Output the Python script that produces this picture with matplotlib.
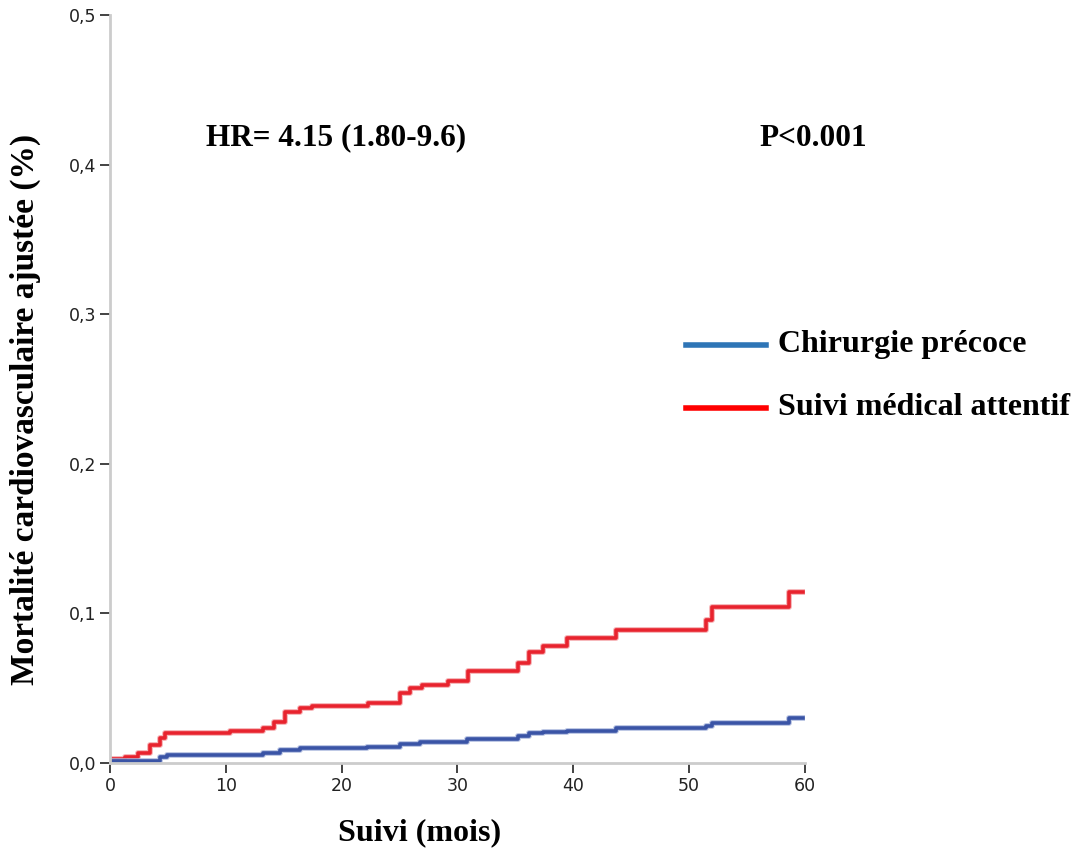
import matplotlib.pyplot as plt

# cumulative adjusted CV mortality (time in months)
t_medical = [0, 1.3, 2.4, 3.45, 4.3, 4.75, 10.4, 13.2, 14.2, 15.1, 16.4, 17.4,
             22.3, 25.0, 25.9, 26.9, 29.2, 30.9, 35.2, 36.2, 37.4, 39.5,
             43.7, 51.5, 52.0, 58.6, 59.8]
y_medical = [0.0027, 0.004, 0.0069, 0.012, 0.0167, 0.020, 0.0216, 0.0234,
             0.0274, 0.034, 0.0367, 0.0383, 0.0403, 0.0467, 0.050, 0.052,
             0.055, 0.0615, 0.0668, 0.0744, 0.078, 0.0838, 0.0889, 0.0956,
             0.1045, 0.1143, 0.1143]

t_chir = [0, 4.3, 4.9, 13.2, 14.7, 16.4, 22.2, 25.0, 26.8, 30.8, 35.2, 36.2,
          37.4, 39.5, 43.7, 51.5, 52.0, 58.6, 59.8]
y_chir = [0.0013, 0.0042, 0.0053, 0.0069, 0.0087, 0.010, 0.011, 0.0127,
          0.0143, 0.016, 0.018, 0.020, 0.021, 0.0216, 0.0234, 0.025, 0.0267,
          0.030, 0.030]

x_ticks = [0, 10, 20, 30, 40, 50, 60]
y_ticks = [0.0, 0.1, 0.2, 0.3, 0.4, 0.5]
y_tick_labels = ["0,0", "0,1", "0,2", "0,3", "0,4", "0,5"]

serif = "Liberation Serif"

fig = plt.figure(figsize=(10.77, 8.51), dpi=100)
ax = fig.add_axes([0.1021, 0.1034, 0.6453, 0.879])

# light halo under each curve, then the curve itself
ax.step(t_medical, y_medical, where="post", color="#f4a0a4", lw=4.2, alpha=0.8)
ax.step(t_medical, y_medical, where="post", color="#e8232e", lw=2.6)
ax.step(t_chir, y_chir, where="post", color="#a8b6dc", lw=4.2, alpha=0.8)
ax.step(t_chir, y_chir, where="post", color="#3a54a6", lw=2.6)

ax.set_xlim(0, 60)
ax.set_ylim(0, 0.5)
ax.set_xticks(x_ticks)
ax.set_yticks(y_ticks)
ax.set_yticklabels(y_tick_labels)
ax.tick_params(axis="both", labelsize=12.5, length=7, width=1.2,
               color="#222222", labelcolor="#222222", direction="out", pad=3)

for side in ["top", "right"]:
    ax.spines[side].set_visible(False)
for side in ["left", "bottom"]:
    ax.spines[side].set_color("#cccccc")
    ax.spines[side].set_linewidth(2)

ax.set_xlabel("Suivi (mois)", family=serif, fontweight="bold", fontsize=23,
              va="center")
ax.xaxis.set_label_coords(0.446, -0.0936)
ax.set_ylabel("Mortalité cardiovasculaire ajustée (%)", family=serif,
              fontweight="bold", fontsize=24, va="center")
ax.yaxis.set_label_coords(-0.1223, 0.472)

fig.text(0.3124, 0.8378, "HR= 4.15 (1.80-9.6)", family=serif,
         fontweight="bold", fontsize=22.5, ha="center", va="center")
fig.text(0.7549, 0.8378, "P<0.001", family=serif, fontweight="bold",
         fontsize=22.5, ha="center", va="center")

# legend drawn as separate overlay lines/text
fig.add_artist(plt.Line2D([0.637, 0.711], [0.5946, 0.5946], color="#2e75b6",
                          lw=4))
fig.add_artist(plt.Line2D([0.637, 0.711], [0.5206, 0.5206], color="#ff0000",
                          lw=4))
fig.text(0.7224, 0.5946, "Chirurgie précoce", family=serif, fontweight="bold",
         fontsize=23, va="center")
fig.text(0.7224, 0.5206, "Suivi médical attentif", family=serif,
         fontweight="bold", fontsize=23, va="center")

fig.savefig("out.png", dpi=100)
